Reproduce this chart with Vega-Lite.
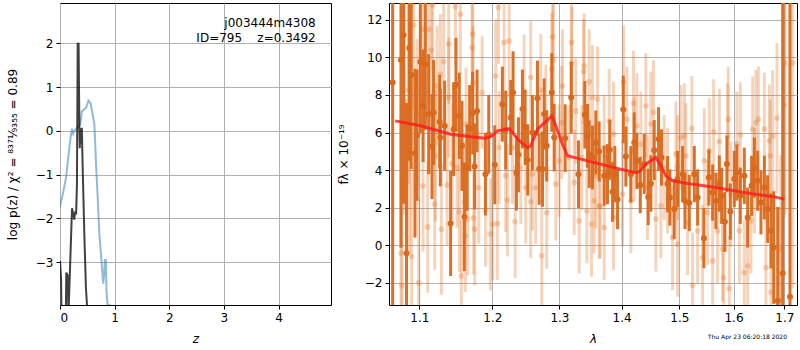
{
  "$schema": "https://vega.github.io/schema/vega-lite/v6.json",
  "autosize": {"type": "pad"},
  "padding": {"left": 5, "top": 2, "right": 0, "bottom": 0},
  "bounds": "flush",
  "spacing": 58,
  "config": {
    "font": "DejaVu Sans",
    "view": {"stroke": "black", "strokeWidth": 1},
    "axis": {"grid": true, "gridColor": "#b0b0b0", "gridWidth": 1, "domain": false, "tickColor": "black", "tickSize": 4, "labelFontSize": 12, "labelColor": "black", "titleFontSize": 12, "titleFontWeight": "normal", "titleColor": "black", "labelPadding": 3}
  },
  "datasets": {
    "blue": [
      {"z":0.0,"p":-1.75},{"z":0.007,"p":-1.68},{"z":0.05,"p":-1.45},{"z":0.11,"p":-1.08},{"z":0.15,"p":-0.62},{"z":0.20,"p":-0.09},{"z":0.22,"p":0.05},{"z":0.24,"p":-0.07},{"z":0.275,"p":0.02},{"z":0.32,"p":0.07},{"z":0.37,"p":0.14},{"z":0.40,"p":0.44},{"z":0.45,"p":0.5},{"z":0.48,"p":0.53},{"z":0.52,"p":0.69},{"z":0.56,"p":0.63},{"z":0.60,"p":0.36},{"z":0.63,"p":0.14},{"z":0.66,"p":-0.77},{"z":0.69,"p":-1.53},{"z":0.72,"p":-2.36},{"z":0.75,"p":-2.82},{"z":0.79,"p":-3.49},{"z":0.81,"p":-3.27},{"z":0.82,"p":-2.95},{"z":0.84,"p":-2.95},{"z":0.85,"p":-3.65},{"z":0.87,"p":-3.97},{"z":0.92,"p":-3.99},{"z":1.0,"p":-6}
    ],
    "darkz": [
      {"z":0.0,"p":-2.97},{"z":0.02,"p":-3.4},{"z":0.035,"p":-5},{"z":0.10,"p":-5},{"z":0.115,"p":-3.24},{"z":0.14,"p":-3.3},{"z":0.155,"p":-4.2},{"z":0.22,"p":-1.77},{"z":0.245,"p":-1.91},{"z":0.26,"p":-2.03},{"z":0.28,"p":-1.84},{"z":0.295,"p":-1.91},{"z":0.31,"p":-1.23},{"z":0.324,"p":1.99},{"z":0.34,"p":1.99},{"z":0.355,"p":0.06},{"z":0.362,"p":-0.4},{"z":0.37,"p":0.06},{"z":0.385,"p":-0.3},{"z":0.40,"p":0.07},{"z":0.415,"p":-0.85},{"z":0.445,"p":-2.36},{"z":0.475,"p":-3.6},{"z":0.495,"p":-4.0},{"z":0.52,"p":-5}
    ],
    "labels": [
      {"z":4.68,"p":2.47,"t":"j003444m4308"},
      {"z":4.68,"p":2.13,"t":"ID=795\u00a0\u00a0\u00a0\u00a0z=0.3492"}
    ],
    "dark": [
      {"l":1.0655,"f":8.66,"e":15},{"l":1.0762,"f":9.86,"e":10},{"l":1.0795,"f":11.2,"e":9},{"l":1.0833,"f":-0.43,"e":8},{"l":1.0868,"f":10.5,"e":6},{"l":1.0894,"f":9.06,"e":5},{"l":1.0943,"f":4.9,"e":4.5},{"l":1.0970,"f":5.86,"e":3.5},{"l":1.1013,"f":9.77,"e":3.8},{"l":1.1049,"f":7.42,"e":3},{"l":1.1079,"f":9.64,"e":3.5},{"l":1.1123,"f":6.98,"e":3.2},{"l":1.1167,"f":5.25,"e":2.8},{"l":1.1188,"f":7.07,"e":2.8},{"l":1.1270,"f":6.57,"e":2.5},{"l":1.1279,"f":5.73,"e":2.6},{"l":1.1337,"f":6.36,"e":2.4},{"l":1.1418,"f":1.15,"e":2.8},{"l":1.1459,"f":6.18,"e":2.5},{"l":1.1491,"f":8.54,"e":2.5},{"l":1.1537,"f":6.89,"e":2.3},{"l":1.1574,"f":5.29,"e":2.4},{"l":1.1606,"f":1.51,"e":2.9},{"l":1.1644,"f":4.13,"e":2.3},{"l":1.1680,"f":6.23,"e":2.3},{"l":1.1722,"f":7.03,"e":2.2},{"l":1.1750,"f":4.19,"e":2.3},{"l":1.1784,"f":7.15,"e":2.2},{"l":1.1902,"f":3.78,"e":2.2},{"l":1.1949,"f":5.9,"e":2.1},
      {"l":1.2035,"f":4.28,"e":2.1},{"l":1.2145,"f":7.51,"e":2},{"l":1.2193,"f":6.13,"e":2.1},{"l":1.2266,"f":6.8,"e":2},{"l":1.2301,"f":8.13,"e":2.2},{"l":1.2350,"f":3.84,"e":2},{"l":1.2380,"f":4.81,"e":2},{"l":1.2439,"f":7.25,"e":2.1},{"l":1.2479,"f":6.27,"e":2},{"l":1.2518,"f":4.54,"e":1.9},{"l":1.2588,"f":6.0,"e":2},{"l":1.2664,"f":7.83,"e":2},{"l":1.2690,"f":4.05,"e":1.9},{"l":1.2740,"f":4.05,"e":2},{"l":1.2766,"f":6.98,"e":1.9},{"l":1.2805,"f":5.29,"e":1.9},{"l":1.2882,"f":8.13,"e":2.1},{"l":1.2919,"f":5.73,"e":1.8},{"l":1.3089,"f":5.7,"e":1.8},{"l":1.3184,"f":7.86,"e":1.9},{"l":1.3299,"f":3.78,"e":1.8},{"l":1.3400,"f":6.94,"e":1.8},{"l":1.3443,"f":5.82,"e":1.7},{"l":1.3470,"f":4.85,"e":1.8},{"l":1.3523,"f":4.67,"e":1.7},{"l":1.3577,"f":5.47,"e":1.7},
      {"l":1.3631,"f":4.99,"e":1.6},{"l":1.3713,"f":3.69,"e":1.6},{"l":1.3767,"f":3.78,"e":1.6},{"l":1.3805,"f":5.08,"e":1.6},{"l":1.3850,"f":2.84,"e":1.6},{"l":1.3888,"f":3.78,"e":1.5},{"l":1.3933,"f":2.45,"e":1.6},{"l":1.4028,"f":7.23,"e":1.8},{"l":1.4072,"f":4.72,"e":1.6},{"l":1.4156,"f":3.78,"e":1.5},{"l":1.4213,"f":5.47,"e":1.6},{"l":1.4258,"f":4.49,"e":1.5},{"l":1.4316,"f":3.2,"e":1.5},{"l":1.4384,"f":4.32,"e":1.6},{"l":1.4452,"f":2.57,"e":1.5},{"l":1.4498,"f":3.28,"e":1.5},{"l":1.4556,"f":5.06,"e":1.6},{"l":1.4631,"f":5.65,"e":1.7},{"l":1.4683,"f":4.67,"e":1.5},{"l":1.4789,"f":3.25,"e":1.5},{"l":1.4830,"f":2.54,"e":1.5},{"l":1.4908,"f":1.92,"e":1.6},{"l":1.4967,"f":3.52,"e":1.5},{"l":1.5057,"f":3.78,"e":1.5},{"l":1.5099,"f":2.36,"e":1.5},{"l":1.5178,"f":2.24,"e":1.5},{"l":1.5269,"f":3.78,"e":1.5},{"l":1.5329,"f":2.54,"e":1.5},
      {"l":1.5444,"f":0.37,"e":1.6},{"l":1.5536,"f":3.6,"e":1.5},{"l":1.5606,"f":2.8,"e":1.5},{"l":1.5667,"f":2.36,"e":1.5},{"l":1.5731,"f":3.28,"e":1.5},{"l":1.5774,"f":2.63,"e":1.5},{"l":1.5836,"f":1.24,"e":1.6},{"l":1.5874,"f":4.32,"e":1.5},{"l":1.5938,"f":1.79,"e":1.5},{"l":1.6015,"f":3.52,"e":1.5},{"l":1.6065,"f":3.87,"e":1.5},{"l":1.6130,"f":2.63,"e":1.5},{"l":1.6207,"f":3.69,"e":1.5},{"l":1.6271,"f":1.47,"e":1.6},{"l":1.6349,"f":3.16,"e":1.6},{"l":1.6402,"f":4.13,"e":1.6},{"l":1.6467,"f":3.43,"e":1.6},{"l":1.6532,"f":2.27,"e":1.7},{"l":1.6599,"f":3.07,"e":1.7},{"l":1.6664,"f":1.92,"e":1.8},{"l":1.6731,"f":0.76,"e":2},{"l":1.6785,"f":-0.13,"e":3},{"l":1.6865,"f":-2.97,"e":5},{"l":1.6966,"f":-1.5,"e":15},{"l":1.7114,"f":-2.75,"e":20}
    ],
    "light": [
      {"l":1.0775,"f":-2.17,"e":6},{"l":1.0762,"f":-0.43,"e":8},{"l":1.0899,"f":-0.61,"e":5},{"l":1.0991,"f":-2.0,"e":4.5},{"l":1.0925,"f":11.74,"e":4.5},{"l":1.0809,"f":7.65,"e":6},{"l":1.0861,"f":8.26,"e":5},{"l":1.1043,"f":11.5,"e":4},{"l":1.1123,"f":11.5,"e":4},{"l":1.1159,"f":10.39,"e":3.5},{"l":1.1176,"f":12.8,"e":3.5},{"l":1.1048,"f":3.16,"e":3.5},{"l":1.1110,"f":0.97,"e":3.5},{"l":1.1203,"f":2.18,"e":3.5},{"l":1.1293,"f":0.85,"e":3.5},{"l":1.1323,"f":9.78,"e":3.2},{"l":1.1370,"f":3.2,"e":3.2},{"l":1.1392,"f":10.71,"e":3.2},{"l":1.1438,"f":4.35,"e":3.2},{"l":1.1483,"f":12.7,"e":3.2},{"l":1.1551,"f":12.3,"e":3.2},{"l":1.1538,"f":1.77,"e":3.2},{"l":1.1607,"f":2.31,"e":3.2},{"l":1.1620,"f":0.5,"e":3},{"l":1.1565,"f":-1.64,"e":3},{"l":1.1652,"f":1.39,"e":3},{"l":1.1736,"f":1.44,"e":3},{"l":1.1751,"f":0.85,"e":3},{"l":1.1722,"f":11.24,"e":3},{"l":1.1714,"f":10.53,"e":3},{"l":1.1728,"f":8.66,"e":3},{"l":1.1855,"f":8.13,"e":3},{"l":1.1902,"f":1.86,"e":3},{"l":1.1973,"f":0.59,"e":3},{"l":1.2006,"f":1.12,"e":3},{"l":1.1235,"f":8.49,"e":3.2},{"l":1.1279,"f":9.11,"e":3.2},{"l":1.1630,"f":6.45,"e":3},{"l":1.0970,"f":6.98,"e":4},{"l":1.0870,"f":4.58,"e":5},{"l":1.1212,"f":4.76,"e":3.5},{"l":1.1506,"f":4.13,"e":3.2},{"l":1.1807,"f":3.07,"e":3},{"l":1.1392,"f":7.86,"e":3.2},
      {"l":1.2088,"f":12.66,"e":3},{"l":1.2170,"f":10.8,"e":3},{"l":1.2243,"f":10.88,"e":3},{"l":1.2049,"f":9.02,"e":3},{"l":1.2218,"f":2.4,"e":3},{"l":1.2331,"f":1.24,"e":3},{"l":1.2073,"f":1.15,"e":3},{"l":1.2193,"f":3.69,"e":3},{"l":1.2488,"f":3.07,"e":3},{"l":1.2562,"f":2.31,"e":3},{"l":1.2638,"f":3.07,"e":3},{"l":1.2729,"f":-0.57,"e":3},{"l":1.2805,"f":1.74,"e":3},{"l":1.2893,"f":11.1,"e":3},{"l":1.2908,"f":9.86,"e":3},{"l":1.2882,"f":9.38,"e":3},{"l":1.2944,"f":3.25,"e":3},{"l":1.3036,"f":6.53,"e":3},{"l":1.3188,"f":10.8,"e":3},{"l":1.3193,"f":9.7,"e":3},{"l":1.3231,"f":3.34,"e":2.8},{"l":1.3310,"f":1.29,"e":2.8},{"l":1.3390,"f":9.55,"e":2.8},{"l":1.3380,"f":9.25,"e":2.8},{"l":1.3470,"f":8.7,"e":2.8},{"l":1.3432,"f":1.83,"e":2.8},{"l":1.3507,"f":1.12,"e":2.8},{"l":1.3523,"f":7.86,"e":2.8},{"l":1.3550,"f":2.36,"e":2.8},{"l":1.3648,"f":2.06,"e":2.8},{"l":1.2464,"f":8.22,"e":3},{"l":1.2562,"f":8.93,"e":3},{"l":1.2714,"f":8.26,"e":3},{"l":1.3047,"f":8.49,"e":3},{"l":1.3152,"f":4.67,"e":2.8},{"l":1.2996,"f":4.49,"e":3},{"l":1.2588,"f":3.78,"e":3},{"l":1.2291,"f":5.2,"e":3},{"l":1.2097,"f":5.2,"e":3},{"l":1.2414,"f":4.13,"e":3},{"l":1.2790,"f":6.62,"e":3},{"l":1.3257,"f":7.15,"e":2.8},{"l":1.3352,"f":4.67,"e":2.8},{"l":1.3577,"f":3.69,"e":2.8},
      {"l":1.4033,"f":8.7,"e":3},{"l":1.4201,"f":7.57,"e":2.8},{"l":1.4411,"f":7.42,"e":2.8},{"l":1.4544,"f":7.07,"e":2.8},{"l":1.3795,"f":6.59,"e":2.8},{"l":1.3867,"f":5.91,"e":2.8},{"l":1.3713,"f":5.2,"e":2.8},{"l":1.3604,"f":7.78,"e":2.8},{"l":1.4089,"f":6.71,"e":2.8},{"l":1.4257,"f":6.36,"e":2.8},{"l":1.4325,"f":5.38,"e":2.8},{"l":1.4497,"f":6.45,"e":2.8},{"l":1.4584,"f":1.39,"e":2.8},{"l":1.4156,"f":2.36,"e":2.8},{"l":1.3867,"f":1.47,"e":2.8},{"l":1.3713,"f":0.94,"e":2.8},{"l":1.3631,"f":2.09,"e":2.8},{"l":1.4672,"f":2.09,"e":2.8},{"l":1.4789,"f":3.43,"e":2.8},{"l":1.4937,"f":4.85,"e":2.8},{"l":1.5026,"f":5.73,"e":2.8},{"l":1.5116,"f":4.76,"e":2.8},{"l":1.5224,"f":6.21,"e":2.8},{"l":1.5088,"f":5.82,"e":2.8},{"l":1.4967,"f":4.13,"e":2.8},{"l":1.4878,"f":0.4,"e":2.8},{"l":1.4967,"f":0.05,"e":2.8},{"l":1.5237,"f":-2.13,"e":2.8},{"l":1.5147,"f":1.2,"e":2.8},{"l":1.5329,"f":0.76,"e":2.8},{"l":1.4440,"f":3.07,"e":2.8},{"l":1.4016,"f":2.72,"e":2.8},{"l":1.4213,"f":5.11,"e":2.8},{"l":1.4730,"f":4.13,"e":2.8},
      {"l":1.5624,"f":6.04,"e":2.8},{"l":1.5545,"f":5.02,"e":2.8},{"l":1.5731,"f":5.52,"e":2.8},{"l":1.5900,"f":6.71,"e":2.8},{"l":1.5887,"f":5.82,"e":2.8},{"l":1.6130,"f":5.88,"e":2.8},{"l":1.6065,"f":5.38,"e":2.8},{"l":1.6369,"f":6.18,"e":2.8},{"l":1.6434,"f":6.53,"e":2.8},{"l":1.6481,"f":6.71,"e":2.8},{"l":1.6599,"f":6.18,"e":3},{"l":1.6764,"f":5.82,"e":3.5},{"l":1.6851,"f":6.77,"e":4},{"l":1.7000,"f":7.46,"e":6},{"l":1.7012,"f":9.7,"e":8},{"l":1.6698,"f":5.56,"e":3},{"l":1.6718,"f":4.76,"e":3},{"l":1.5451,"f":4.49,"e":2.8},{"l":1.5420,"f":-0.66,"e":2.8},{"l":1.5606,"f":-0.84,"e":2.8},{"l":1.5793,"f":-0.21,"e":2.8},{"l":1.6207,"f":-1.46,"e":2.8},{"l":1.6271,"f":-1.1,"e":2.8},{"l":1.6630,"f":-1.19,"e":3},{"l":1.6731,"f":-2.52,"e":3},{"l":1.5919,"f":-2.31,"e":2.8},{"l":1.5812,"f":-1.73,"e":2.8},{"l":1.5699,"f":0.76,"e":2.8},{"l":1.5513,"f":1.74,"e":2.8},{"l":1.6111,"f":0.76,"e":2.8},{"l":1.6336,"f":1.29,"e":2.8},{"l":1.6402,"f":3.43,"e":2.8},{"l":1.5951,"f":2.72,"e":2.8},{"l":1.6926,"f":-0.21,"e":5},{"l":1.6899,"f":-2.97,"e":5},{"l":1.7169,"f":9.7,"e":12}
    ],
    "model": [
      {"l":1.0686,"f":6.62},{"l":1.1017,"f":6.36},{"l":1.1419,"f":5.91},{"l":1.1694,"f":5.77},{"l":1.1905,"f":5.7},{"l":1.2002,"f":5.82},{"l":1.2073,"f":6.09},{"l":1.2243,"f":6.21},{"l":1.2390,"f":5.56},{"l":1.2513,"f":5.2},{"l":1.2563,"f":5.29},{"l":1.2664,"f":6.18},{"l":1.2816,"f":6.66},{"l":1.2882,"f":6.89},{"l":1.2944,"f":6.36},{"l":1.3047,"f":5.38},{"l":1.3125,"f":4.76},{"l":1.3336,"f":4.58},{"l":1.3550,"f":4.4},{"l":1.3878,"f":4.13},{"l":1.4213,"f":3.87},{"l":1.4298,"f":3.9},{"l":1.4411,"f":4.32},{"l":1.4584,"f":4.67},{"l":1.4672,"f":4.22},{"l":1.4759,"f":3.69},{"l":1.4878,"f":3.43},{"l":1.5147,"f":3.28},{"l":1.5575,"f":3.11},{"l":1.6207,"f":2.8},{"l":1.6798,"f":2.57},{"l":1.7000,"f":2.45}
    ]
  },
  "hconcat": [
    {
      "width": 271,
      "height": 302,
      "layer": [
        {
          "data": {"name": "blue"},
          "mark": {"type": "line", "color": "#1f77b4", "opacity": 0.5, "strokeWidth": 2, "clip": true},
          "encoding": {
            "x": {"field": "z", "type": "quantitative", "scale": {"domain": [0, 4.96], "nice": false, "zero": false}, "axis": {"values": [0, 1, 2, 3, 4], "title": "z", "titleFontStyle": "italic", "titlePadding": 10}},
            "y": {"field": "p", "type": "quantitative", "scale": {"domain": [-3.98, 2.92], "nice": false, "zero": false}, "axis": {"values": [-3, -2, -1, 0, 1, 2], "title": "log p(z) / χ² = ⁸³⁷¹⁄₉₃₅₅ = 0.89", "titlePadding": 16}}
          }
        },
        {
          "data": {"name": "darkz"},
          "mark": {"type": "line", "color": "black", "opacity": 0.75, "strokeWidth": 2, "clip": true},
          "encoding": {
            "x": {"field": "z", "type": "quantitative"},
            "y": {"field": "p", "type": "quantitative"}
          }
        },
        {
          "data": {"name": "labels"},
          "mark": {"type": "text", "align": "right", "baseline": "middle", "fontSize": 12, "color": "black"},
          "encoding": {
            "x": {"field": "z", "type": "quantitative"},
            "y": {"field": "p", "type": "quantitative"},
            "text": {"field": "t"}
          }
        }
      ]
    },
    {
      "width": 408,
      "height": 302,
      "title": {"text": "Thu Apr 23 06:20:18 2020", "orient": "bottom", "anchor": "end", "fontSize": 6, "fontWeight": "normal", "color": "black", "offset": -10, "dx": -10},
      "encoding": {
        "x": {"field": "l", "type": "quantitative", "scale": {"type": "log", "domain": [1.0609, 1.7258], "nice": false}, "axis": {"values": [1.1, 1.2, 1.3, 1.4, 1.5, 1.6, 1.7], "format": ".1f", "title": "λ", "titleFontStyle": "italic", "titlePadding": 10}},
        "y": {"field": "f", "type": "quantitative", "scale": {"domain": [-3.19, 12.9], "nice": false, "zero": false}, "axis": {"values": [-2, 0, 2, 4, 6, 8, 10, 12], "title": "fλ × 10⁻¹⁹", "titlePadding": 14}}
      },
      "layer": [
        {
          "data": {"name": "light"},
          "mark": {"type": "errorbar", "color": "#e07020", "opacity": 0.3, "thickness": 3, "clip": true},
          "encoding": {"yError": {"field": "e"}}
        },
        {
          "data": {"name": "light"},
          "mark": {"type": "circle", "color": "#e07020", "opacity": 0.3, "size": 32, "clip": true},
          "encoding": {}
        },
        {
          "data": {"name": "dark"},
          "mark": {"type": "errorbar", "color": "#d9691c", "opacity": 0.95, "thickness": 3, "clip": true},
          "encoding": {"yError": {"field": "e"}}
        },
        {
          "data": {"name": "dark"},
          "mark": {"type": "circle", "color": "#d9691c", "opacity": 1, "size": 36, "clip": true},
          "encoding": {}
        },
        {
          "data": {"name": "model"},
          "mark": {"type": "line", "color": "#ff1a1a", "opacity": 0.8, "strokeWidth": 3, "clip": true},
          "encoding": {}
        },
        {
          "mark": {"type": "rule", "color": "black", "strokeDash": [2, 2.5], "strokeWidth": 1.8},
          "encoding": {"y": {"datum": 0}, "x": {"value": 0}, "x2": {"value": 408}}
        }
      ]
    }
  ]
}
